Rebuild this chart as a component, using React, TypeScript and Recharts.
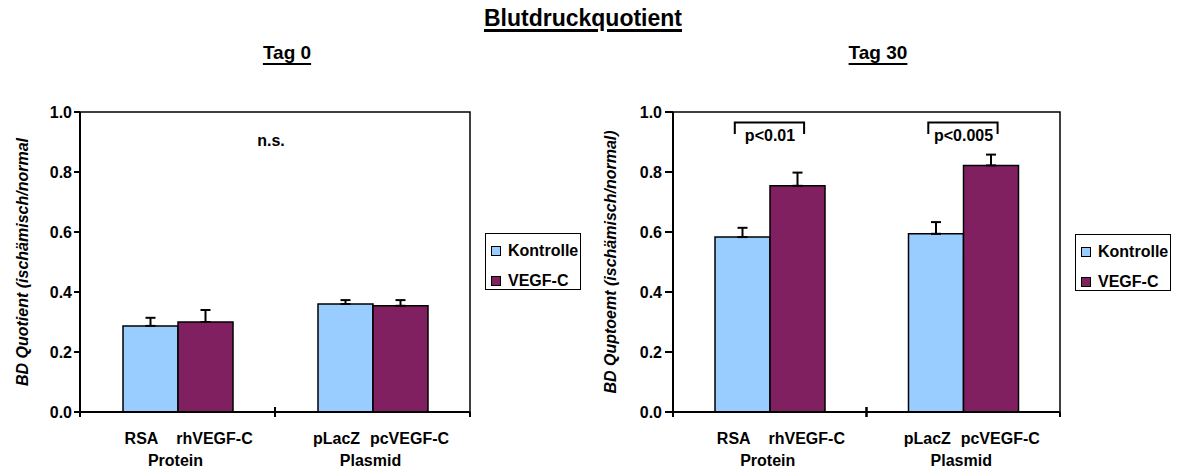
import React from "react";
import {
  BarChart,
  Bar,
  XAxis,
  YAxis,
  ErrorBar,
  Legend,
  LabelList,
  Label,
  ReferenceArea,
  ReferenceLine,
} from "recharts";

const categories = ["Protein", "Plasmid"];
const subLabels = [
  ["RSA", "rhVEGF-C"],
  ["pLacZ", "pcVEGF-C"],
];

// Tag 0
const tag0Kontrolle = [0.287, 0.36];
const tag0KontrolleErr = [0.027, 0.013];
const tag0Vegf = [0.3, 0.354];
const tag0VegfErr = [0.04, 0.019];

// Tag 30
const tag30Kontrolle = [0.583, 0.594];
const tag30KontrolleErr = [0.031, 0.039];
const tag30Vegf = [0.754, 0.822];
const tag30VegfErr = [0.044, 0.036];
const pValues = ["p<0.01", "p<0.005"];

const yTicks = [0, 0.2, 0.4, 0.6, 0.8, 1.0];

const FONT = '"Liberation Sans", Arial, sans-serif';
const BLUE = "#99CCFF";
const PLUM = "#802060";
const FS = 16;

const buildRows = (k: number[], kErr: number[], v: number[], vErr: number[], sig?: string[]) =>
  categories.map((cat, i) => ({
    cat,
    subs: subLabels[i],
    kontrolle: k[i],
    kontrolleErr: [0, kErr[i]],
    vegf: v[i],
    vegfErr: [0, vErr[i]],
    sig: sig ? sig[i] : "",
  }));

const tag0Data = buildRows(tag0Kontrolle, tag0KontrolleErr, tag0Vegf, tag0VegfErr);
const tag30Data = buildRows(tag30Kontrolle, tag30KontrolleErr, tag30Vegf, tag30VegfErr, pValues);

function CategoryTick(props: any) {
  const { x, y, payload, index } = props;
  const half = payload && payload.offset ? payload.offset : 97;
  const subs = subLabels[index] || ["", ""];
  const last = index === categories.length - 1;
  return (
    <g>
      <line x1={x - half} x2={x - half} y1={y - (index === 0 ? 0 : 5)} y2={y + 5} stroke="#000" strokeWidth={2} />
      <line x1={x + half} x2={x + half} y1={y - (last ? 0 : 5)} y2={y + 5} stroke="#000" strokeWidth={2} />
      <text x={x - 36} y={y + 32} textAnchor="middle" fontSize={FS} fontWeight={700} fill="#000">
        {subs[0]}
      </text>
      <text x={x + 37} y={y + 32} textAnchor="middle" fontSize={FS} fontWeight={700} fill="#000">
        {subs[1]}
      </text>
      <text x={x - 2} y={y + 54} textAnchor="middle" fontSize={FS} fontWeight={700} fill="#000">
        {payload.value}
      </text>
    </g>
  );
}

function LegendBox(props: any) {
  const items = props.payload || [];
  return (
    <div
      style={{
        width: 96,
        height: 57,
        border: "1.5px solid #000",
        boxSizing: "border-box",
        background: "#fff",
        position: "relative",
        fontFamily: FONT,
      }}
    >
      {items.map((it: any, i: number) => (
        <div
          key={it.value}
          style={{ position: "absolute", left: 5, top: 6.5 + i * 30, height: 20, display: "flex", alignItems: "center" }}
        >
          <span
            style={{
              display: "inline-block",
              width: 8,
              height: 8,
              border: "1px solid #000",
              background: it.color || (it.payload && it.payload.fill),
              marginRight: 7,
            }}
          />
          <span style={{ fontSize: FS, fontWeight: 700, color: "#000" }}>{it.value}</span>
        </div>
      ))}
    </div>
  );
}

const yLabel = (text: string, shift: number) => (props: any) => {
  const vb = props.viewBox || { x: 0, y: 0, width: 0, height: 0 };
  const cx = vb.x + shift;
  const cy = vb.y + vb.height / 2;
  return (
    <text
      x={cx}
      y={cy}
      transform={`rotate(-90, ${cx}, ${cy})`}
      textAnchor="middle"
      dominantBaseline="central"
      fontSize={FS}
      fontWeight={700}
      fontStyle="italic"
      fill="#000"
    >
      {text}
    </text>
  );
};

function Bracket(props: any) {
  const { x, y, width, height, index, value } = props;
  if (!value) return null;
  const v = tag30Vegf[index];
  const ppu = height / v;
  const bottom = y + height;
  const top = bottom - 0.965 * ppu;
  const leg = bottom - 0.927 * ppu;
  const xl = x - 0.64 * width;
  const xr = x + 0.62 * width;
  return (
    <g>
      <polyline
        points={`${xl},${leg} ${xl},${top} ${xr},${top} ${xr},${leg}`}
        fill="none"
        stroke="#000"
        strokeWidth={2}
      />
      <text x={x} y={bottom - 0.905 * ppu} textAnchor="middle" fontSize={FS} fontWeight={700} fill="#000">
        {value}
      </text>
    </g>
  );
}

type PanelProps = {
  data: any[];
  label: string;
  marginLeft: number;
  marginRight: number;
  axisWidth: number;
  tickSize: number;
  tickMargin: number;
  legendTop: number;
  width: number;
  showNs?: boolean;
  showSig?: boolean;
};

function Panel(p: PanelProps) {
  return (
    <BarChart
      width={p.width}
      height={472}
      data={p.data}
      margin={{ top: 112, right: p.marginRight, bottom: 0, left: p.marginLeft }}
      barGap={0}
      barSize={55}
    >
      <ReferenceArea y1={0} y2={1} fill="none" stroke="#000" strokeWidth={1.5} ifOverflow="visible" />
      <XAxis
        dataKey="cat"
        interval={0}
        height={60}
        axisLine={{ stroke: "#000", strokeWidth: 2 }}
        tickLine={false}
        tickSize={0}
        tickMargin={0}
        tick={(props: any) => <CategoryTick {...props} />}
      />
      <YAxis
        domain={[0, 1]}
        ticks={yTicks}
        width={p.axisWidth}
        tickFormatter={(v: number) => v.toFixed(1)}
        tick={{ fill: "#000", fontSize: FS, fontWeight: 700 }}
        tickSize={p.tickSize}
        tickMargin={p.tickMargin}
        tickLine={{ stroke: "#000", strokeWidth: 2 }}
        axisLine={{ stroke: "#000", strokeWidth: 2 }}
        allowDataOverflow
      >
        <Label content={yLabel(p.label, 6)} />
      </YAxis>
      {p.showNs && (
        <ReferenceLine
          y={0.905}
          stroke="none"
          label={{ value: "n.s.", position: "center", fill: "#000", fontSize: FS, fontWeight: 700, dx: -4 }}
        />
      )}
      <Legend
        layout="vertical"
        align="center"
        verticalAlign="middle"
        content={(props: any) => <LegendBox {...props} />}
        wrapperStyle={{ left: 485, top: p.legendTop, width: 96, height: 57 }}
      />
      <Bar dataKey="kontrolle" name="Kontrolle" fill={BLUE} stroke="#000" strokeWidth={1.5} isAnimationActive={false}>
        <ErrorBar dataKey="kontrolleErr" width={5} stroke="#000" strokeWidth={2} direction="y" />
      </Bar>
      <Bar dataKey="vegf" name="VEGF-C" fill={PLUM} stroke="#000" strokeWidth={1.5} isAnimationActive={false}>
        <ErrorBar dataKey="vegfErr" width={5} stroke="#000" strokeWidth={2} direction="y" />
        {p.showSig && <LabelList dataKey="sig" content={(props: any) => <Bracket {...props} />} />}
      </Bar>
    </BarChart>
  );
}

const headStyle = (size: number, thick: number, offset: number): React.CSSProperties => ({
  fontSize: size,
  lineHeight: `${size}px`,
  fontWeight: 700,
  textDecoration: "underline",
  textDecorationThickness: thick,
  textUnderlineOffset: offset,
  color: "#000",
  whiteSpace: "nowrap",
});

export default function App() {
  return (
    <div
      style={{
        position: "absolute",
        left: 0,
        top: 0,
        width: 1179,
        height: 472,
        background: "#fff",
        fontFamily: FONT,
        overflow: "hidden",
      }}
    >
      <div style={{ position: "absolute", left: 383, width: 400, top: 7, textAlign: "center" }}>
        <span style={headStyle(23, 3, 3)}>Blutdruckquotient</span>
      </div>
      <div style={{ position: "absolute", left: 187, width: 200, top: 43, textAlign: "center" }}>
        <span style={headStyle(19, 2, 4)}>Tag 0</span>
      </div>
      <div style={{ position: "absolute", left: 778, width: 200, top: 43, textAlign: "center" }}>
        <span style={headStyle(19, 2, 4)}>Tag 30</span>
      </div>
      <div style={{ position: "absolute", left: 0, top: 0 }}>
        <Panel
          data={tag0Data}
          label="BD Quotient (ischämisch/normal"
          width={600}
          marginLeft={16}
          marginRight={130}
          axisWidth={64}
          tickSize={6}
          tickMargin={2}
          legendTop={233}
          showNs
        />
      </div>
      <div style={{ position: "absolute", left: 590, top: 0 }}>
        <Panel
          data={tag30Data}
          label="BD Quptoemt (ischämisch/normal)"
          width={589}
          marginLeft={14}
          marginRight={119}
          axisWidth={69}
          tickSize={8}
          tickMargin={3}
          legendTop={234}
          showSig
        />
      </div>
    </div>
  );
}
